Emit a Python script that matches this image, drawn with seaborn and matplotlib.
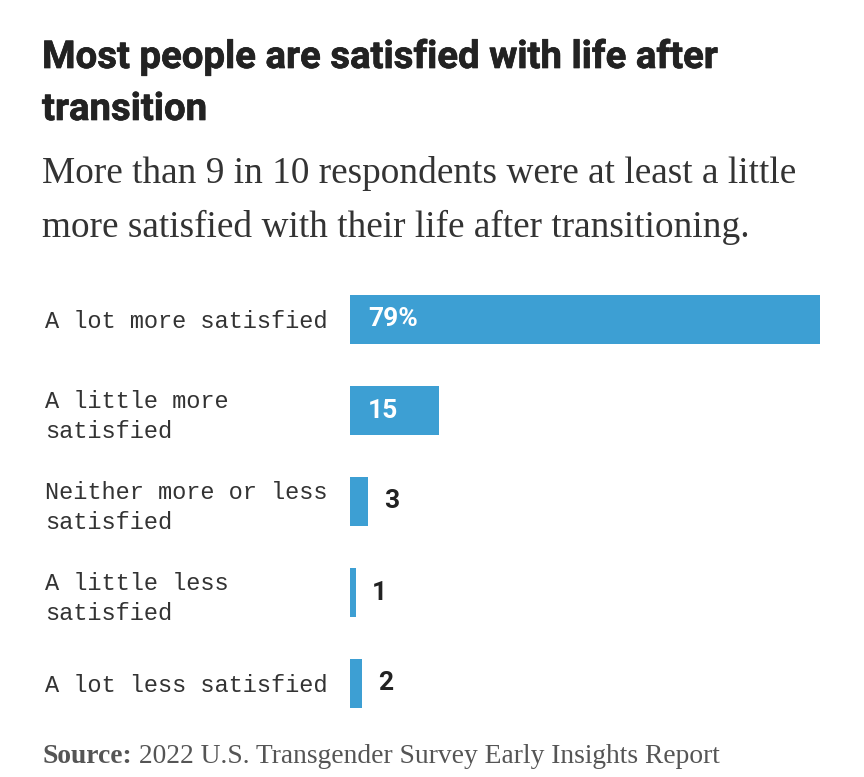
import matplotlib
matplotlib.use("Agg")
import matplotlib.pyplot as plt
import matplotlib.patheffects as pe
import seaborn as sns
import pandas as pd

categories = [
    "A lot more satisfied",
    "A little more\nsatisfied",
    "Neither more or less\nsatisfied",
    "A little less\nsatisfied",
    "A lot less satisfied",
]
values = [79, 15, 3, 1, 2]
value_labels = ["79%", "15", "3", "1", "2"]

title_lines = ["Most people are satisfied with life after", "transition"]
subtitle_lines = ["More than 9 in 10 respondents were at least a little",
                  "more satisfied with their life after transitioning."]
source_bold = "Source:"
source_text = " 2022 U.S. Transgender Survey Early Insights Report"

sns.set_theme(style="white")
plt.rcParams["font.family"] = ["DejaVu Sans"]

W, H = 864, 777
fig = plt.figure(figsize=(W / 100, H / 100), dpi=100)
fig.patch.set_facecolor("white")

def fx(x):
    return x / W

def fy(y):
    return 1 - y / H

ax_left, ax_right = 350, 820
ax_top, ax_bottom = 274, 729
ax = fig.add_axes([fx(ax_left), fy(ax_bottom), (ax_right - ax_left) / W, (ax_bottom - ax_top) / H])

df = pd.DataFrame({"category": categories, "value": values})
BAR = "#3d9fd3"
sns.barplot(data=df, x="value", y="category", orient="h", color=BAR,
            width=0.54, saturation=1, ax=ax, edgecolor="none")
ax.set_xlim(0, 79)
ax.set_ylim(4.5, -0.5)
ax.set_xlabel("")
ax.set_ylabel("")
ax.set_xticks([])
for s in ax.spines.values():
    s.set_visible(False)
ax.set_facecolor("white")

pad_pt = (ax_left - 45) * 72 / 100
ax.tick_params(axis="y", length=0, pad=pad_pt)
ax.set_yticks(range(len(categories)))
ax.set_yticklabels(categories, ha="left", fontfamily=["Liberation Mono", "DejaVu Sans Mono"],
                   fontsize=17, color="#333333", linespacing=1.38)

num_font = ["Roboto", "DejaVu Sans"]
for i, (v, lab) in enumerate(zip(values, value_labels)):
    if v >= 10:
        ax.annotate(lab, xy=(0, i), xytext=(18 * 0.72, 0), textcoords="offset points",
                    ha="left", va="center", color="white", fontsize=19,
                    fontweight="bold", fontfamily=num_font)
    else:
        ax.annotate(lab, xy=(v, i), xytext=(16 * 0.72, 0), textcoords="offset points",
                    ha="left", va="center", color="#222222", fontsize=19,
                    fontweight="bold", fontfamily=num_font)

title_font = ["Roboto", "DejaVu Sans"]
for line, yb in zip(title_lines, [68, 120]):
    fig.text(fx(42), fy(yb), line, ha="left", va="baseline", fontsize=27.6,
             fontweight="bold", fontfamily=title_font, color="#222222",
             path_effects=[pe.Stroke(linewidth=0.5, foreground="#222222"), pe.Normal()])

for line, yb in zip(subtitle_lines, [183, 237]):
    fig.text(fx(42), fy(yb), line, ha="left", va="baseline", fontsize=26.8,
             fontfamily=["Liberation Serif", "DejaVu Serif"], color="#333333")

t1 = fig.text(fx(42), fy(763), source_bold, ha="left", va="baseline", fontsize=19.8,
              fontweight="bold", fontfamily=["Liberation Serif", "DejaVu Serif"], color="#555555")
ax.annotate(source_text, xy=(1, 0), xycoords=t1, ha="left", va="bottom", fontsize=19.8,
            fontfamily=["Liberation Serif", "DejaVu Serif"], color="#555555",
            annotation_clip=False)

fig.savefig("out.png", dpi=100, facecolor="white")
